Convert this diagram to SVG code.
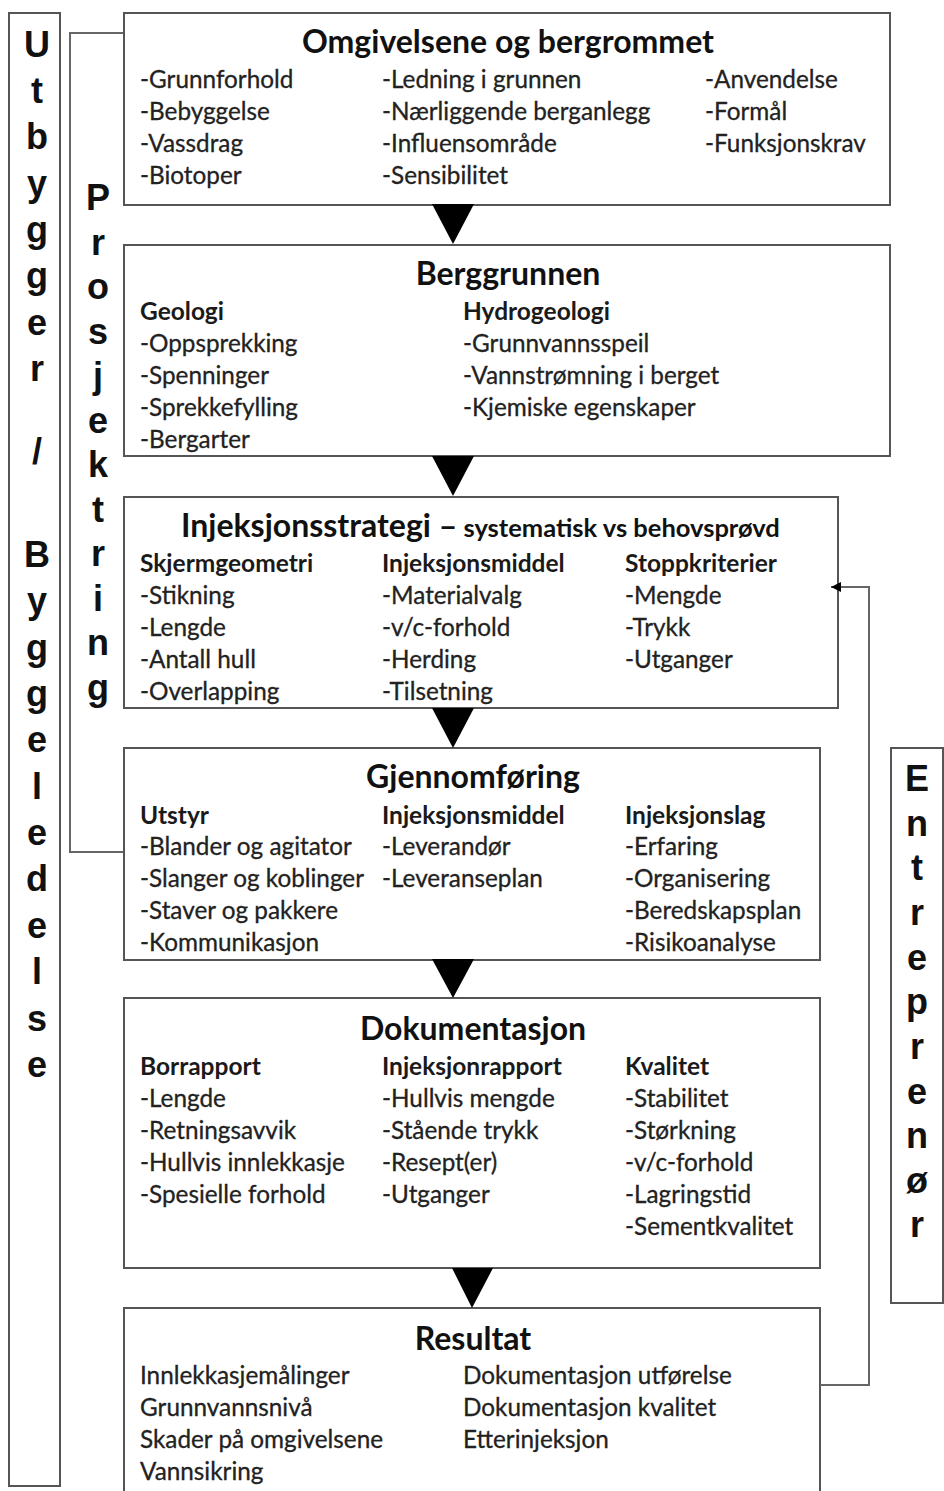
<svg xmlns="http://www.w3.org/2000/svg" width="944" height="1491" viewBox="0 0 944 1491">
<style>
.box{fill:#fff;stroke:#555;stroke-width:2}
.side{fill:#fff;stroke:#555;stroke-width:2}
.conn{fill:none;stroke:#666;stroke-width:2}
.tri{fill:#000}
.t{font-family:Lato,"Open Sans",sans-serif;font-size:24.3px;fill:#222;stroke:#222;stroke-width:0.3}
.h{font-family:Lato,"Open Sans",sans-serif;font-size:24.5px;font-weight:bold;fill:#1a1a1a}
.ttl{font-family:Lato,"Open Sans",sans-serif;font-size:32px;font-weight:bold;fill:#111;text-anchor:middle}
.v{font-family:"Liberation Sans",Arial,sans-serif;font-size:36px;font-weight:bold;fill:#111;text-anchor:middle}
</style>
<defs>
<marker id="arr" viewBox="0 0 10 10" refX="10" refY="5" markerWidth="5" markerHeight="5" orient="auto" markerUnits="strokeWidth">
<path d="M0,0 L10,5 L0,10 z" fill="#000"/>
</marker>
<clipPath id="c2"><rect x="124" y="245" width="766" height="210"/></clipPath>
<clipPath id="c3"><rect x="124" y="497" width="714" height="210"/></clipPath>
<clipPath id="c4"><rect x="124" y="748" width="696" height="211"/></clipPath>
</defs>

<g id="utbygger">
<rect class="side" x="9" y="13" width="51" height="1473"/>
<text class="v"><tspan x="37" y="57">U</tspan><tspan x="37" y="103">t</tspan><tspan x="37" y="149">b</tspan><tspan x="37" y="196">y</tspan><tspan x="37" y="242">g</tspan><tspan x="37" y="288">g</tspan><tspan x="37" y="335">e</tspan><tspan x="37" y="381">r</tspan><tspan x="37" y="464">/</tspan><tspan x="37" y="567">B</tspan><tspan x="37" y="613">y</tspan><tspan x="37" y="660">g</tspan><tspan x="37" y="706">g</tspan><tspan x="37" y="752">e</tspan><tspan x="37" y="799">l</tspan><tspan x="37" y="845">e</tspan><tspan x="37" y="891">d</tspan><tspan x="37" y="938">e</tspan><tspan x="37" y="984">l</tspan><tspan x="37" y="1031">s</tspan><tspan x="37" y="1077">e</tspan></text>
</g>

<g id="prosjektering">
<polyline class="conn" points="124,33 70,33 70,852 124,852"/>
<text class="v"><tspan x="98" y="210">P</tspan><tspan x="98" y="255">r</tspan><tspan x="98" y="299">o</tspan><tspan x="98" y="344">s</tspan><tspan x="98" y="388">j</tspan><tspan x="98" y="433">e</tspan><tspan x="98" y="477">k</tspan><tspan x="98" y="522">t</tspan><tspan x="98" y="566">r</tspan><tspan x="98" y="611">i</tspan><tspan x="98" y="655">n</tspan><tspan x="98" y="700">g</tspan></text>
</g>

<g id="entreprenor">
<rect class="side" x="891" y="748" width="52" height="555"/>
<text class="v"><tspan x="917" y="791">E</tspan><tspan x="917" y="836">n</tspan><tspan x="917" y="880">t</tspan><tspan x="917" y="925">r</tspan><tspan x="917" y="970">e</tspan><tspan x="917" y="1014">p</tspan><tspan x="917" y="1059">r</tspan><tspan x="917" y="1104">e</tspan><tspan x="917" y="1148">n</tspan><tspan x="917" y="1193">ø</tspan><tspan x="917" y="1237">r</tspan></text>
</g>

<g id="omgivelsene">
<rect class="box" x="124" y="13" width="766" height="192"/>
<text class="ttl" x="508" y="53">Omgivelsene og bergrommet</text>
<text class="t"><tspan x="140" y="88">-Grunnforhold</tspan><tspan x="140" y="120">-Bebyggelse</tspan><tspan x="140" y="152">-Vassdrag</tspan><tspan x="140" y="184">-Biotoper</tspan></text>
<text class="t"><tspan x="382" y="88">-Ledning i grunnen</tspan><tspan x="382" y="120">-Nærliggende berganlegg</tspan><tspan x="382" y="152">-Influensområde</tspan><tspan x="382" y="184">-Sensibilitet</tspan></text>
<text class="t"><tspan x="705" y="88">-Anvendelse</tspan><tspan x="705" y="120">-Formål</tspan><tspan x="705" y="152">-Funksjonskrav</tspan></text>
</g>

<g id="berggrunnen">
<rect class="box" x="124" y="245" width="766" height="211"/>
<g clip-path="url(#c2)">
<text class="ttl" x="508" y="285">Berggrunnen</text>
<text class="h" x="140" y="320">Geologi</text>
<text class="t"><tspan x="140" y="352">-Oppsprekking</tspan><tspan x="140" y="384">-Spenninger</tspan><tspan x="140" y="416">-Sprekkefylling</tspan><tspan x="140" y="448">-Bergarter</tspan></text>
<text class="h" x="463" y="320">Hydrogeologi</text>
<text class="t"><tspan x="463" y="352">-Grunnvannsspeil</tspan><tspan x="463" y="384">-Vannstrømning i berget</tspan><tspan x="463" y="416">-Kjemiske egenskaper</tspan></text>
</g>
</g>

<g id="injeksjonsstrategi">
<rect class="box" x="124" y="497" width="714" height="211"/>
<g clip-path="url(#c3)">
<text x="181" y="537" style="font-family:Lato,'Open Sans',sans-serif;font-weight:bold;fill:#111"><tspan font-size="32">Injeksjonsstrategi –</tspan><tspan font-size="25.5"> systematisk vs behovsprøvd</tspan></text>
<text class="h" x="140" y="572">Skjermgeometri</text>
<text class="t"><tspan x="140" y="604">-Stikning</tspan><tspan x="140" y="636">-Lengde</tspan><tspan x="140" y="668">-Antall hull</tspan><tspan x="140" y="700">-Overlapping</tspan></text>
<text class="h" x="382" y="572">Injeksjonsmiddel</text>
<text class="t"><tspan x="382" y="604">-Materialvalg</tspan><tspan x="382" y="636">-v/c-forhold</tspan><tspan x="382" y="668">-Herding</tspan><tspan x="382" y="700">-Tilsetning</tspan></text>
<text class="h" x="625" y="572">Stoppkriterier</text>
<text class="t"><tspan x="625" y="604">-Mengde</tspan><tspan x="625" y="636">-Trykk</tspan><tspan x="625" y="668">-Utganger</tspan></text>
</g>
</g>

<g id="gjennomforing">
<rect class="box" x="124" y="748" width="696" height="212"/>
<g clip-path="url(#c4)">
<text class="ttl" x="473" y="788">Gjennomføring</text>
<text class="h" x="140" y="824">Utstyr</text>
<text class="t"><tspan x="140" y="855">-Blander og agitator</tspan><tspan x="140" y="887">-Slanger og koblinger</tspan><tspan x="140" y="919">-Staver og pakkere</tspan><tspan x="140" y="951">-Kommunikasjon</tspan></text>
<text class="h" x="382" y="824">Injeksjonsmiddel</text>
<text class="t"><tspan x="382" y="855">-Leverandør</tspan><tspan x="382" y="887">-Leveranseplan</tspan></text>
<text class="h" x="625" y="824">Injeksjonslag</text>
<text class="t"><tspan x="625" y="855">-Erfaring</tspan><tspan x="625" y="887">-Organisering</tspan><tspan x="625" y="919">-Beredskapsplan</tspan><tspan x="625" y="951">-Risikoanalyse</tspan></text>
</g>
</g>

<g id="dokumentasjon">
<rect class="box" x="124" y="998" width="696" height="270"/>
<text class="ttl" x="473" y="1040">Dokumentasjon</text>
<text class="h" x="140" y="1075">Borrapport</text>
<text class="t"><tspan x="140" y="1107">-Lengde</tspan><tspan x="140" y="1139">-Retningsavvik</tspan><tspan x="140" y="1171">-Hullvis innlekkasje</tspan><tspan x="140" y="1203">-Spesielle forhold</tspan></text>
<text class="h" x="382" y="1075">Injeksjonrapport</text>
<text class="t"><tspan x="382" y="1107">-Hullvis mengde</tspan><tspan x="382" y="1139">-Stående trykk</tspan><tspan x="382" y="1171">-Resept(er)</tspan><tspan x="382" y="1203">-Utganger</tspan></text>
<text class="h" x="625" y="1075">Kvalitet</text>
<text class="t"><tspan x="625" y="1107">-Stabilitet</tspan><tspan x="625" y="1139">-Størkning</tspan><tspan x="625" y="1171">-v/c-forhold</tspan><tspan x="625" y="1203">-Lagringstid</tspan><tspan x="625" y="1235">-Sementkvalitet</tspan></text>
</g>

<g id="resultat">
<rect class="box" x="124" y="1308" width="696" height="200"/>
<text class="ttl" x="473" y="1350">Resultat</text>
<text class="t"><tspan x="140" y="1384">Innlekkasjemålinger</tspan><tspan x="140" y="1416">Grunnvannsnivå</tspan><tspan x="140" y="1448">Skader på omgivelsene</tspan><tspan x="140" y="1480">Vannsikring</tspan></text>
<text class="t"><tspan x="463" y="1384">Dokumentasjon utførelse</tspan><tspan x="463" y="1416">Dokumentasjon kvalitet</tspan><tspan x="463" y="1448">Etterinjeksjon</tspan></text>
</g>

<g id="connectors">
<polygon class="tri" points="432,204 474,204 453,244"/>
<polygon class="tri" points="432,456 474,456 453,496"/>
<polygon class="tri" points="432,708 474,708 453,748"/>
<polygon class="tri" points="432,959 474,959 453,998"/>
<polygon class="tri" points="452,1268 493,1268 472,1308"/>
<polyline class="conn" points="820,1385 869,1385 869,587 831,587" marker-end="url(#arr)"/>
</g>
</svg>
